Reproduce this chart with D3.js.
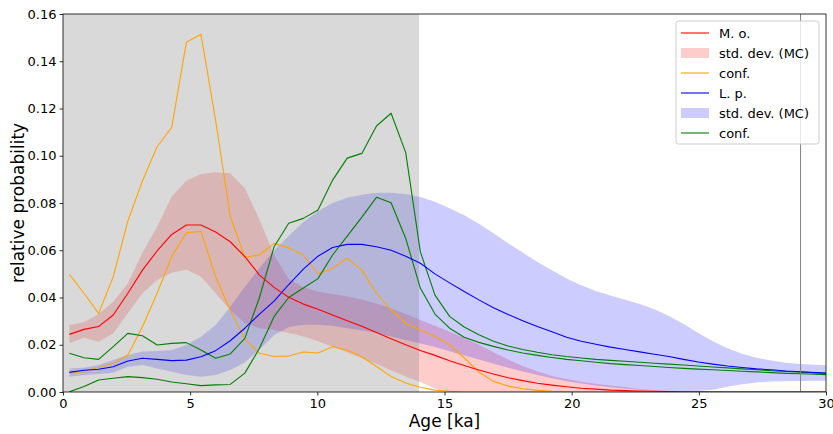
<!DOCTYPE html>
<html>
<head>
<meta charset="utf-8">
<script src="https://cdn.jsdelivr.net/npm/d3@7"></script>
<style>
body { margin: 0; background: #fff; }
text { font-family: "DejaVu Sans", sans-serif; fill: #000; }
</style>
</head>
<body>
<script>
// age grid [ka]
let ages = [0.25,0.825,1.4,1.975,2.55,3.125,3.7,4.275,4.85,5.425,6.0,6.575,7.15,7.725,8.3,8.875,9.45,10.025,10.6,11.175,11.75,12.325,12.9,13.475,14.05,14.625,15.2,15.775,16.35,16.925,17.5,18.075,18.65,19.225,19.8,20.375,20.95,21.525,22.1,22.675,23.25,23.825,24.4,24.975,25.55,26.125,26.7,27.275,27.85,28.425,29.0,29.575,30.15]

// M. o.
let moMean = [0.0244,0.0265,0.0277,0.0326,0.0418,0.0516,0.0597,0.0667,0.0707,0.0707,0.0677,0.0636,0.0573,0.0495,0.0443,0.0401,0.0372,0.0350,0.0326,0.0302,0.0278,0.0252,0.0225,0.0200,0.0176,0.0155,0.0132,0.0112,0.0093,0.0076,0.0060,0.0048,0.0037,0.0029,0.0022,0.0016,0.0012,0.0008,0.0006,0.0004,0.0003,0.0002,0.0001,0.0001,0,0,0,0,0,0,0,0,0]
let moStdHi = [0.0284,0.0295,0.0330,0.0382,0.0460,0.0590,0.0700,0.0827,0.0894,0.0923,0.0930,0.0926,0.0862,0.0730,0.0580,0.0478,0.0443,0.0425,0.0415,0.0405,0.0392,0.0375,0.0355,0.0330,0.0305,0.0280,0.0255,0.0230,0.0200,0.0168,0.0138,0.0110,0.0088,0.0068,0.0055,0.0043,0.0035,0.0028,0.0021,0.0013,0.0008,0.0004,0.0002,0.0001,0,0,0,0,0,0,0,0,0]
let moStdLo = [0.0206,0.0230,0.0213,0.0248,0.0333,0.0418,0.0474,0.0505,0.0519,0.0488,0.0418,0.0347,0.0291,0.0270,0.0262,0.0250,0.0235,0.0215,0.0192,0.0168,0.0143,0.0118,0.0092,0.0066,0.0042,0.0015,0,0,0,0,0,0,0,0,0,0,0,0,0,0,0,0,0,0,0,0,0,0,0,0,0,0,0]
let moConfHi = [0.0498,0.0418,0.0333,0.0488,0.0724,0.0894,0.1038,0.1120,0.1480,0.1514,0.1150,0.0745,0.0570,0.0580,0.0629,0.0610,0.0580,0.0500,0.0524,0.0566,0.0516,0.0418,0.0347,0.0291,0.0262,0.0235,0.0200,0.0145,0.0085,0.0045,0.0025,0.0014,0.0007,0.0003,0.0001,0,0,0,0,0,0,0,0,0,0,0,0,0,0,0,0,0,0]
let moConfLo = [0.0082,0.0086,0.0104,0.0121,0.0157,0.0276,0.0418,0.0573,0.0674,0.0680,0.0488,0.0347,0.0224,0.0164,0.0150,0.0152,0.0169,0.0165,0.0192,0.0177,0.0149,0.0108,0.0066,0.0038,0.0020,0.0008,0.0003,0,0,0,0,0,0,0,0,0,0,0,0,0,0,0,0,0,0,0,0,0,0,0,0,0,0]

// L. p.
let lpMean = [0.0083,0.0092,0.0096,0.0107,0.0131,0.0143,0.0138,0.0133,0.0135,0.0149,0.0175,0.0217,0.0270,0.0330,0.0385,0.0455,0.0520,0.0575,0.0612,0.0625,0.0625,0.0615,0.0600,0.0575,0.0545,0.0500,0.0462,0.0425,0.0390,0.0357,0.0328,0.0302,0.0277,0.0255,0.0232,0.0215,0.0202,0.0190,0.0180,0.0170,0.0160,0.0150,0.0138,0.0127,0.0118,0.0110,0.0104,0.0098,0.0094,0.0089,0.0086,0.0082,0.0079]
let lpStdHi = [0.0100,0.0103,0.0114,0.0135,0.0157,0.0171,0.0174,0.0178,0.0199,0.0234,0.0284,0.0361,0.0446,0.0525,0.0600,0.0660,0.0720,0.0765,0.0800,0.0822,0.0835,0.0843,0.0843,0.0838,0.0825,0.0805,0.0778,0.0748,0.0712,0.0672,0.0630,0.0590,0.0550,0.0515,0.0480,0.0452,0.0428,0.0408,0.0390,0.0372,0.0350,0.0322,0.0288,0.0250,0.0215,0.0185,0.0162,0.0145,0.0133,0.0124,0.0118,0.0115,0.0113]
let lpStdLo = [0.0065,0.0072,0.0076,0.0082,0.0107,0.0114,0.0100,0.0086,0.0072,0.0065,0.0072,0.0093,0.0125,0.0180,0.0240,0.0275,0.0285,0.0285,0.0280,0.0270,0.0260,0.0250,0.0235,0.0220,0.0205,0.0190,0.0172,0.0155,0.0138,0.0120,0.0103,0.0087,0.0072,0.0058,0.0046,0.0036,0.0027,0.0020,0.0014,0.0009,0.0006,0.0004,0.0003,0.0005,0.0010,0.0022,0.0033,0.0040,0.0044,0.0046,0.0047,0.0048,0.0048]
let lpConfHi = [0.0164,0.0145,0.0138,0.0192,0.0248,0.0238,0.0199,0.0206,0.0209,0.0178,0.0143,0.0161,0.0227,0.0400,0.0615,0.0714,0.0735,0.0770,0.0897,0.0990,0.1010,0.1126,0.1180,0.1013,0.0594,0.0410,0.0320,0.0275,0.0242,0.0215,0.0195,0.0180,0.0168,0.0158,0.0150,0.0144,0.0138,0.0134,0.0130,0.0126,0.0122,0.0118,0.0114,0.0110,0.0106,0.0102,0.0098,0.0094,0.0090,0.0087,0.0084,0.0081,0.0079]
let lpConfLo = [0.0001,0.0023,0.0051,0.0058,0.0065,0.0061,0.0054,0.0042,0.0035,0.0027,0.0030,0.0032,0.0080,0.0185,0.0320,0.0400,0.0440,0.0480,0.0580,0.0660,0.0740,0.0824,0.0801,0.0650,0.0440,0.0330,0.0270,0.0232,0.0210,0.0193,0.0178,0.0165,0.0155,0.0146,0.0138,0.0132,0.0126,0.0120,0.0116,0.0112,0.0108,0.0104,0.0100,0.0097,0.0094,0.0091,0.0088,0.0085,0.0082,0.0079,0.0077,0.0075,0.0073]

let shadeRange = [0, 14]
let markerAge = 29
let xTicks = [0, 5, 10, 15, 20, 25, 30]
let yTicks = [0, 0.02, 0.04, 0.06, 0.08, 0.10, 0.12, 0.14, 0.16]

let width = 833
let height = 434
let margin = {top: 14, right: 7, bottom: 42, left: 63}

let svg = d3.select("body")
    .append("svg")
    .attr("width", width)
    .attr("height", height)

let x = d3.scaleLinear()
    .domain([0, 30])
    .range([margin.left, width - margin.right])

let y = d3.scaleLinear()
    .domain([0, 0.16])
    .range([height - margin.bottom, margin.top])

svg.append("clipPath")
    .attr("id", "plot")
    .append("rect")
    .attr("x", x(0))
    .attr("y", y(0.16))
    .attr("width", x(30) - x(0))
    .attr("height", y(0) - y(0.16))

let g = svg.append("g").attr("clip-path", "url(#plot)")

let band = (lo, hi) => d3.area()
    .x((d, i) => x(ages[i]))
    .y0((d, i) => y(lo[i]))
    .y1((d, i) => y(hi[i]))(ages)

let line = vals => d3.line()
    .x((d, i) => x(ages[i]))
    .y((d, i) => y(vals[i]))(ages)

g.append("path")
    .attr("d", band(moStdLo, moStdHi))
    .attr("fill", "red")
    .attr("fill-opacity", 0.2)

g.append("path")
    .attr("d", band(lpStdLo, lpStdHi))
    .attr("fill", "blue")
    .attr("fill-opacity", 0.2)

// shaded interval
g.append("rect")
    .attr("x", x(shadeRange[0]))
    .attr("y", y(0.16))
    .attr("width", x(shadeRange[1]) - x(shadeRange[0]))
    .attr("height", y(0) - y(0.16))
    .attr("fill", "gray")
    .attr("fill-opacity", 0.3)

let series = [
    [moConfHi, "orange"], [moConfLo, "orange"],
    [lpConfHi, "green"], [lpConfLo, "green"],
    [lpMean, "blue"], [moMean, "red"]
]

series.forEach(s => {
    g.append("path")
        .attr("d", line(s[0]))
        .attr("fill", "none")
        .attr("stroke", s[1])
        .attr("stroke-width", 1.1)
        .attr("stroke-linejoin", "round")
})

svg.append("line")
    .attr("x1", x(markerAge)).attr("x2", x(markerAge))
    .attr("y1", y(0)).attr("y2", y(0.16))
    .attr("stroke", "gray")
    .attr("stroke-width", 1)

// axes
let xAxis = svg.append("g")
    .attr("transform", `translate(0,${y(0)})`)
    .call(d3.axisBottom(x).tickValues(xTicks).tickFormat(d3.format("d")).tickSize(3.5).tickPadding(3))
let yAxis = svg.append("g")
    .attr("transform", `translate(${x(0)},0)`)
    .call(d3.axisLeft(y).tickValues(yTicks).tickFormat(d3.format(".2f")).tickSize(3.5).tickPadding(3))

svg.selectAll(".tick text").attr("font-size", 13).attr("font-family", "DejaVu Sans")
svg.selectAll(".tick line").attr("stroke", "#000").attr("stroke-width", 0.8)
svg.selectAll(".domain").remove()

svg.append("rect")
    .attr("x", x(0))
    .attr("y", y(0.16))
    .attr("width", x(30) - x(0))
    .attr("height", y(0) - y(0.16))
    .attr("fill", "none")
    .attr("stroke", "#000")
    .attr("stroke-width", 0.8)

svg.append("text")
    .attr("x", (x(0) + x(30)) / 2)
    .attr("y", 427)
    .attr("text-anchor", "middle")
    .attr("font-size", 17)
    .text("Age [ka]")

svg.append("text")
    .attr("transform", `translate(24,${(y(0) + y(0.16)) / 2}) rotate(-90)`)
    .attr("text-anchor", "middle")
    .attr("font-size", 17)
    .text("relative probability")

// legend
let legendItems = [
    {label: "M. o.", kind: "line", color: "red"},
    {label: "std. dev. (MC)", kind: "patch", color: "red"},
    {label: "conf.", kind: "line", color: "orange"},
    {label: "L. p.", kind: "line", color: "blue"},
    {label: "std. dev. (MC)", kind: "patch", color: "blue"},
    {label: "conf.", kind: "line", color: "green"}
]

let legend = svg.append("g").attr("transform", "translate(676,21)")

legend.append("rect")
    .attr("width", 143)
    .attr("height", 123)
    .attr("rx", 2.5)
    .attr("fill", "white")
    .attr("fill-opacity", 0.8)
    .attr("stroke", "#cccccc")
    .attr("stroke-width", 1)

let rows = legend.selectAll(".row")
    .data(legendItems)
    .enter()
    .append("g")
    .attr("transform", (d, i) => `translate(0,${12 + i * 20})`)

rows.each(function(d) {
    let r = d3.select(this)
    if (d.kind == "line") {
        r.append("line")
            .attr("x1", 5).attr("x2", 33)
            .attr("y1", 0).attr("y2", 0)
            .attr("stroke", d.color)
            .attr("stroke-width", 1.1)
    } else {
        r.append("rect")
            .attr("x", 5).attr("y", -5)
            .attr("width", 28).attr("height", 10)
            .attr("fill", d.color)
            .attr("fill-opacity", 0.2)
    }
})

rows.append("text")
    .attr("x", 43)
    .attr("y", 4.5)
    .attr("font-size", 13)
    .text(d => d.label)
</script>
</body>
</html>
